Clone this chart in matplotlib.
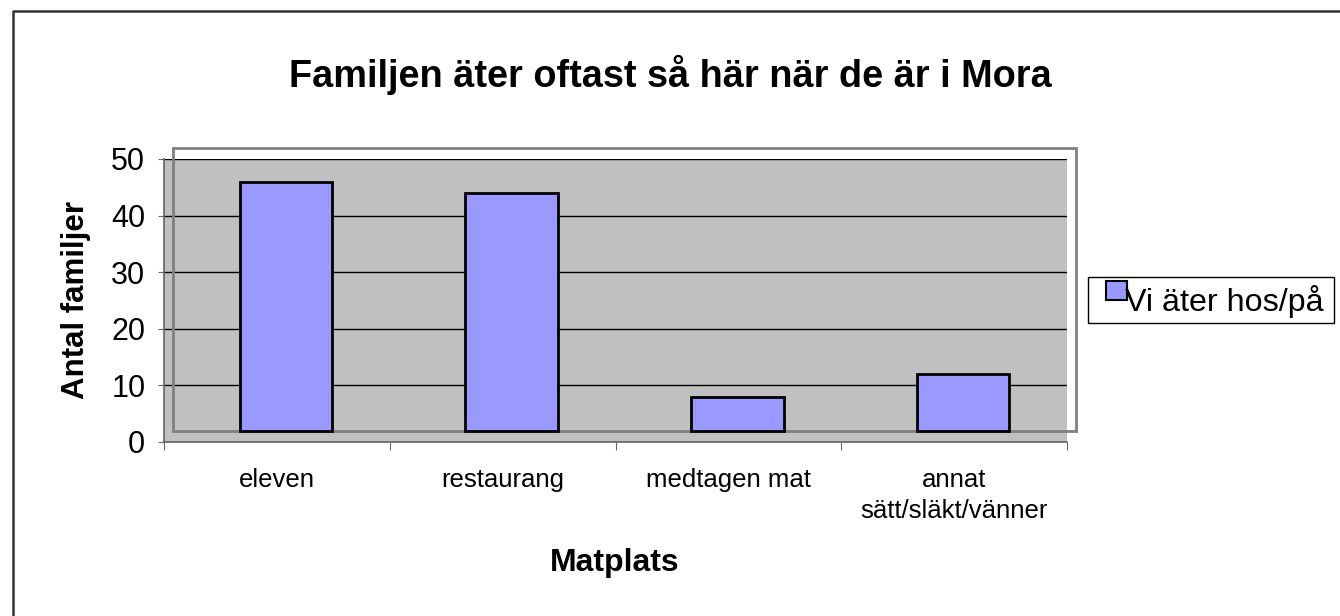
import numpy as np
import matplotlib.pyplot as plt
from matplotlib.patches import Rectangle
from matplotlib.lines import Line2D

plt.rcParams['font.family'] = ['Liberation Sans', 'DejaVu Sans']

# Data
kategorier = ["eleven", "restaurang", "medtagen mat", "annat\nsätt/släkt/vänner"]
antal = [46, 44, 8, 12]
serie_namn = "Vi äter hos/på"
y_ticks = [0, 10, 20, 30, 40, 50]

fig = plt.figure(figsize=(13.4, 6.16), dpi=100)
ax = fig.add_axes([0.1224, 0.2825, 0.6739, 0.4594])

# Excel-like depth offset of the front plane
dx, dy = 0.04, 1.94

x = np.arange(len(kategorier))
ax.set_facecolor('#C0C0C0')
ax.set_xlim(-0.5, len(kategorier) - 0.5)
ax.set_ylim(0, 50)

# gridlines
ax.set_yticks(y_ticks)
ax.yaxis.grid(True, color='black', linewidth=1)
ax.set_axisbelow(True)

# front frame of the plot area
ax.add_patch(Rectangle((-0.5 + dx, dy), len(kategorier), 50, fill=False,
                       edgecolor='#808080', linewidth=2, clip_on=False, zorder=2))

ax.bar(x + dx, np.array(antal) - dy, bottom=dy, width=0.41,
       color='#9999FF', edgecolor='black', linewidth=2, zorder=3)

for s in ['top', 'right']:
    ax.spines[s].set_visible(False)
for s in ['left', 'bottom']:
    ax.spines[s].set_color('#666666')
    ax.spines[s].set_linewidth(1.2)

# ticks at category boundaries, labels at centers
ax.set_xticks(np.arange(len(kategorier) + 1) - 0.5)
ax.set_xticklabels([])
ax.set_xticks(x, minor=True)
ax.set_xticklabels(kategorier, minor=True, fontsize=18.5, linespacing=1.35)
ax.tick_params(axis='x', which='major', length=6, color='#666666', direction='out')
ax.tick_params(axis='x', which='minor', length=0, pad=19)
ax.tick_params(axis='y', length=4.5, pad=9, labelsize=22, color='#666666')

fig.text(0.5, 0.878, "Familjen äter oftast så här när de är i Mora",
         ha='center', va='center', fontsize=27.3, fontweight='bold')
fig.text(0.057, 0.513, "Antal familjer", rotation=90, ha='center', va='center',
         fontsize=22.5, fontweight='bold')
fig.text(0.459, 0.086, "Matplats", ha='center', va='center',
         fontsize=23, fontweight='bold')

# legend box
fig.patches.append(Rectangle((1088 / 1340, 1 - 323 / 616), 246 / 1340, 46 / 616,
                             transform=fig.transFigure, facecolor='white',
                             edgecolor='black', linewidth=1))
fig.patches.append(Rectangle((1106 / 1340, 1 - 300 / 616), 21 / 1340, 19 / 616,
                             transform=fig.transFigure, facecolor='#9999FF',
                             edgecolor='black', linewidth=1.5))
fig.text(1125 / 1340, 1 - 301 / 616, serie_namn, ha='left', va='center',
         fontsize=23.2)

# chart area border (top and left edges)
fig.lines.append(Line2D([13 / 1340, 13 / 1340, 1], [0, 1 - 11 / 616, 1 - 11 / 616],
                        transform=fig.transFigure, color='#333333', linewidth=1.8))

fig.savefig('out.png', dpi=100)
